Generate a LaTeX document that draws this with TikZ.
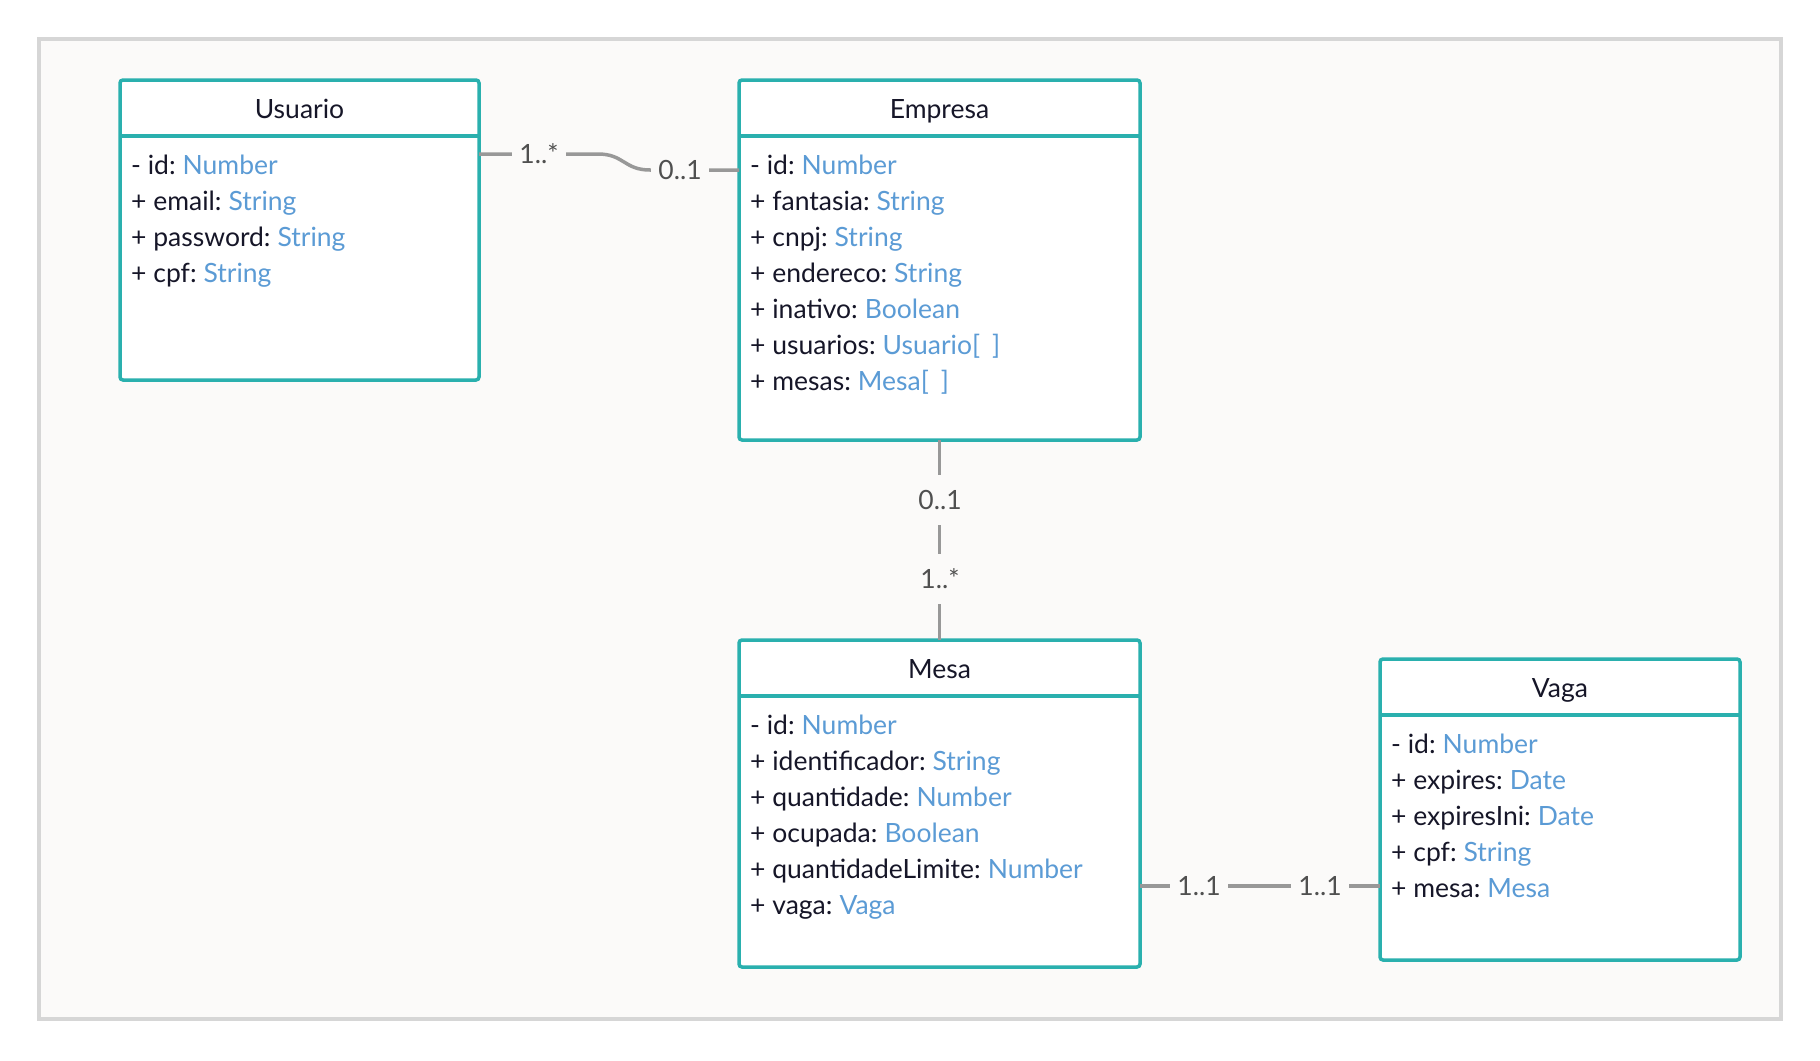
\documentclass[tikz,border=0pt]{standalone}
\usepackage{fontspec}
\setmainfont{Lato}
\usetikzlibrary{calc}

\definecolor{teal}{RGB}{42,176,174}
\definecolor{typeblue}{RGB}{91,155,213}
\definecolor{inkdark}{RGB}{22,22,40}
\definecolor{connect}{RGB}{152,152,152}
\definecolor{multtext}{RGB}{80,80,80}
\definecolor{framegray}{RGB}{214,214,214}
\definecolor{canvas}{RGB}{251,250,249}

\newcommand\umlfont{\fontsize{26.5}{31}\selectfont}

\tikzset{
  classbox/.style={draw=teal, line width=3.5, fill=white, rounded corners=3,
    anchor=north west, inner sep=0, outer sep=0},
  divider/.style={draw=teal, line width=3.5},
  classtitle/.style={anchor=base, inner sep=0, text=inkdark, font=\umlfont},
  attr/.style={anchor=base west, inner sep=0, text=inkdark, font=\umlfont},
  conn/.style={draw=connect, line width=3.5},
  multh/.style={fill=canvas, text=multtext, inner xsep=7, inner ysep=4, font=\umlfont},
  multv/.style={fill=canvas, text=multtext, inner xsep=4, inner ysep=15, font=\umlfont},
}

% #1 name, #2 x, #3 y, #4 width, #5 height, #6 title, #7 attributes name/type
\newcommand\umlclass[7]{%
  \node[classbox, minimum width=#4, minimum height=#5] (#1) at (#2,#3) {};
  \draw[divider] ($(#1.north west)+(0,56)$) -- ($(#1.north east)+(0,56)$);
  \node[classtitle] (#1-title) at ($(#1.north)+(0,38)$) {#6};
  \foreach \aname/\atype [count=\i] in {#7} {
    \node[attr] (#1-attr\i) at ($(#1.north west)+(11,58+36*\i)$)
      {\aname: \hspace{-2pt}\textcolor{typeblue}{\atype}};
  }%
}

\begin{document}
\begin{tikzpicture}[x=1pt, y=-1pt]
  \useasboundingbox (0,0) rectangle (1820,1060);
  \fill[white] (0,0) rectangle (1820,1060);
  \draw[draw=framegray, fill=canvas, line width=3.5] (39,39) rectangle (1781,1019);

  \umlclass{usuario}{120}{80}{359}{300}{Usuario}
    {- id/Number, + email/String, + password/String, + cpf/String}
  \umlclass{empresa}{739}{80}{401}{360}{Empresa}
    {- id/Number, + fantasia/String, + cnpj/String, + endereco/String,
     + inativo/Boolean, + usuarios/Usuario[\hspace{0.45em}], + mesas/Mesa[\hspace{0.45em}]}
  \umlclass{mesa}{739}{640}{401}{327}{Mesa}
    {- id/Number, + identificador/String, + quantidade/Number, + ocupada/Boolean,
     + quantidadeLimite/Number, + vaga/Vaga}
  \umlclass{vaga}{1380}{659}{360}{301}{Vaga}
    {- id/Number, + expires/Date, + expiresIni/Date, + cpf/String, + mesa/Mesa}

  % Usuario -- Empresa
  \draw[conn] ($(usuario.north east)+(0,74)$) -- (598,154)
    .. controls (624,154) and (624,170) .. (650,170)
    -- ($(empresa.north west)+(0,90)$);
  \node[multh] (ue-a) at (539,154) {1..*};
  \node[multh] (ue-b) at (680,170) {0..1};

  % Empresa -- Mesa
  \draw[conn] (empresa.south) -- (mesa.north);
  \node[multv] (em-a) at (940,500) {0..1};
  \node[multv] (em-b) at (940,579) {1..*};

  % Mesa -- Vaga
  \draw[conn] ($(mesa.north east)+(0,246)$) -- ($(vaga.north west)+(0,227)$);
  \node[multh] (mv-a) at (1199,886) {1..1};
  \node[multh] (mv-b) at (1320,886) {1..1};
\end{tikzpicture}
\end{document}
